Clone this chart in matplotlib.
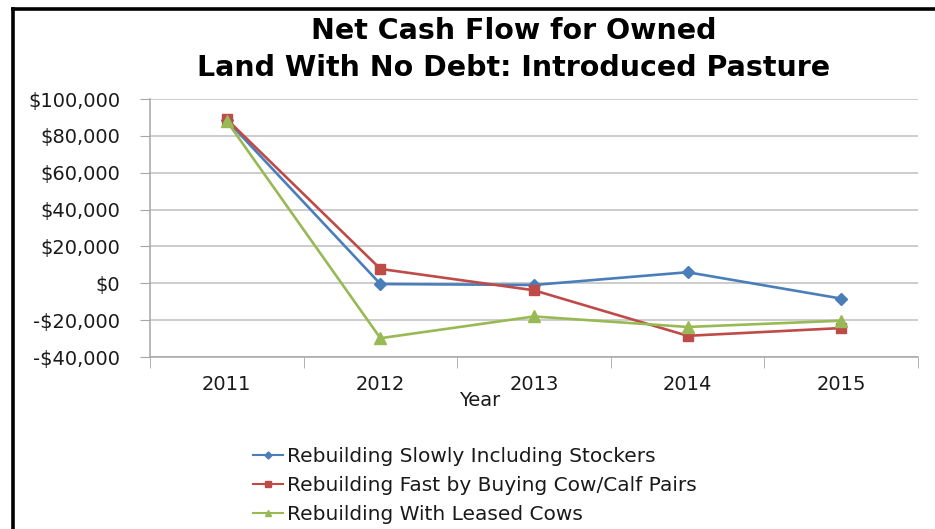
import matplotlib
matplotlib.use("Agg")
import matplotlib.pyplot as plt
from matplotlib.lines import Line2D
from matplotlib.ticker import FuncFormatter, FixedLocator

plt.rcParams['font.family'] = ['DejaVu Sans']

years = ["2011", "2012", "2013", "2014", "2015"]
slow_stockers = [88500, -400, -900, 6000, -8300]
fast_pairs = [89000, 7800, -3800, -28500, -24300]
leased_cows = [88000, -29800, -18000, -23700, -20300]

series_names = ["Rebuilding Slowly Including Stockers",
                "Rebuilding Fast by Buying Cow/Calf Pairs",
                "Rebuilding With Leased Cows"]
colors = ["#4A7EBB", "#BE4B48", "#98B954"]
markers = ["D", "s", "^"]
msizes = [6, 7.5, 8]

W, H = 935, 529
fig = plt.figure(figsize=(W / 100, H / 100), dpi=100)
fig.patch.set_facecolor("white")

# outer frame (runs off the right and bottom edges)
fig.add_artist(Line2D([13 / W, 1.0], [1 - 9 / H, 1 - 9 / H], color="black", lw=2.6,
                      transform=fig.transFigure))
fig.add_artist(Line2D([13 / W, 13 / W], [0.0, 1 - 9 / H], color="black", lw=2.6,
                      transform=fig.transFigure))

ax = fig.add_axes([150 / W, 1 - 357 / H, (918 - 150) / W, (357 - 99) / H])
x = list(range(len(years)))
for vals, name, c, m, ms in zip([slow_stockers, fast_pairs, leased_cows],
                                series_names, colors, markers, msizes):
    ax.plot(x, vals, color=c, lw=1.9, marker=m, markersize=ms, label=name, zorder=3)

ax.set_xlim(-0.5, len(years) - 0.5)
ax.set_ylim(-40000, 100000)
ax.set_yticks(range(-40000, 100001, 20000))
ax.yaxis.set_major_formatter(FuncFormatter(
    lambda v, p: ("-$" if v < 0 else "$") + f"{abs(int(v)):,}"))
ax.grid(axis="y", color="#BFBFBF", lw=1.1)
ax.set_axisbelow(True)

ax.set_xticks(x)
ax.set_xticklabels(years)
ax.xaxis.set_minor_locator(FixedLocator([i - 0.5 for i in range(len(years) + 1)]))
ax.tick_params(axis="x", which="major", length=0, pad=13, labelsize=14, labelcolor="#1a1a1a")
ax.tick_params(axis="x", which="minor", length=8, color="#A6A6A6", direction="out")
ax.tick_params(axis="y", length=7, color="#A6A6A6", pad=14.5, labelsize=14, labelcolor="#1a1a1a")

for s in ["top", "right"]:
    ax.spines[s].set_visible(False)
for s in ["left", "bottom"]:
    ax.spines[s].set_color("#A6A6A6")
    ax.spines[s].set_linewidth(1.1)

fig.text(514 / W, 1 - 31 / H, "Net Cash Flow for Owned", ha="center", va="center",
         fontsize=20.5, fontweight="bold", color="black")
fig.text(514 / W, 1 - 68 / H, "Land With No Debt: Introduced Pasture", ha="center",
         va="center", fontsize=20.5, fontweight="bold", color="black")
fig.text(480 / W, 1 - 400 / H, "Year", ha="center", va="center", fontsize=14,
         color="#1a1a1a")

handles = [Line2D([], [], color=c, lw=1.5, marker=m, markersize=ms * 0.6)
           for c, m, ms in zip(colors, markers, msizes)]
fig.legend(handles, series_names, loc="upper left",
           bbox_to_anchor=(253 / W, 1 - 447 / H), frameon=False, fontsize=14.5,
           handlelength=1.5, handletextpad=0.2, labelspacing=0.5, borderpad=0,
           borderaxespad=0, labelcolor="#1a1a1a")

fig.savefig("out.png", dpi=100, facecolor="white")
